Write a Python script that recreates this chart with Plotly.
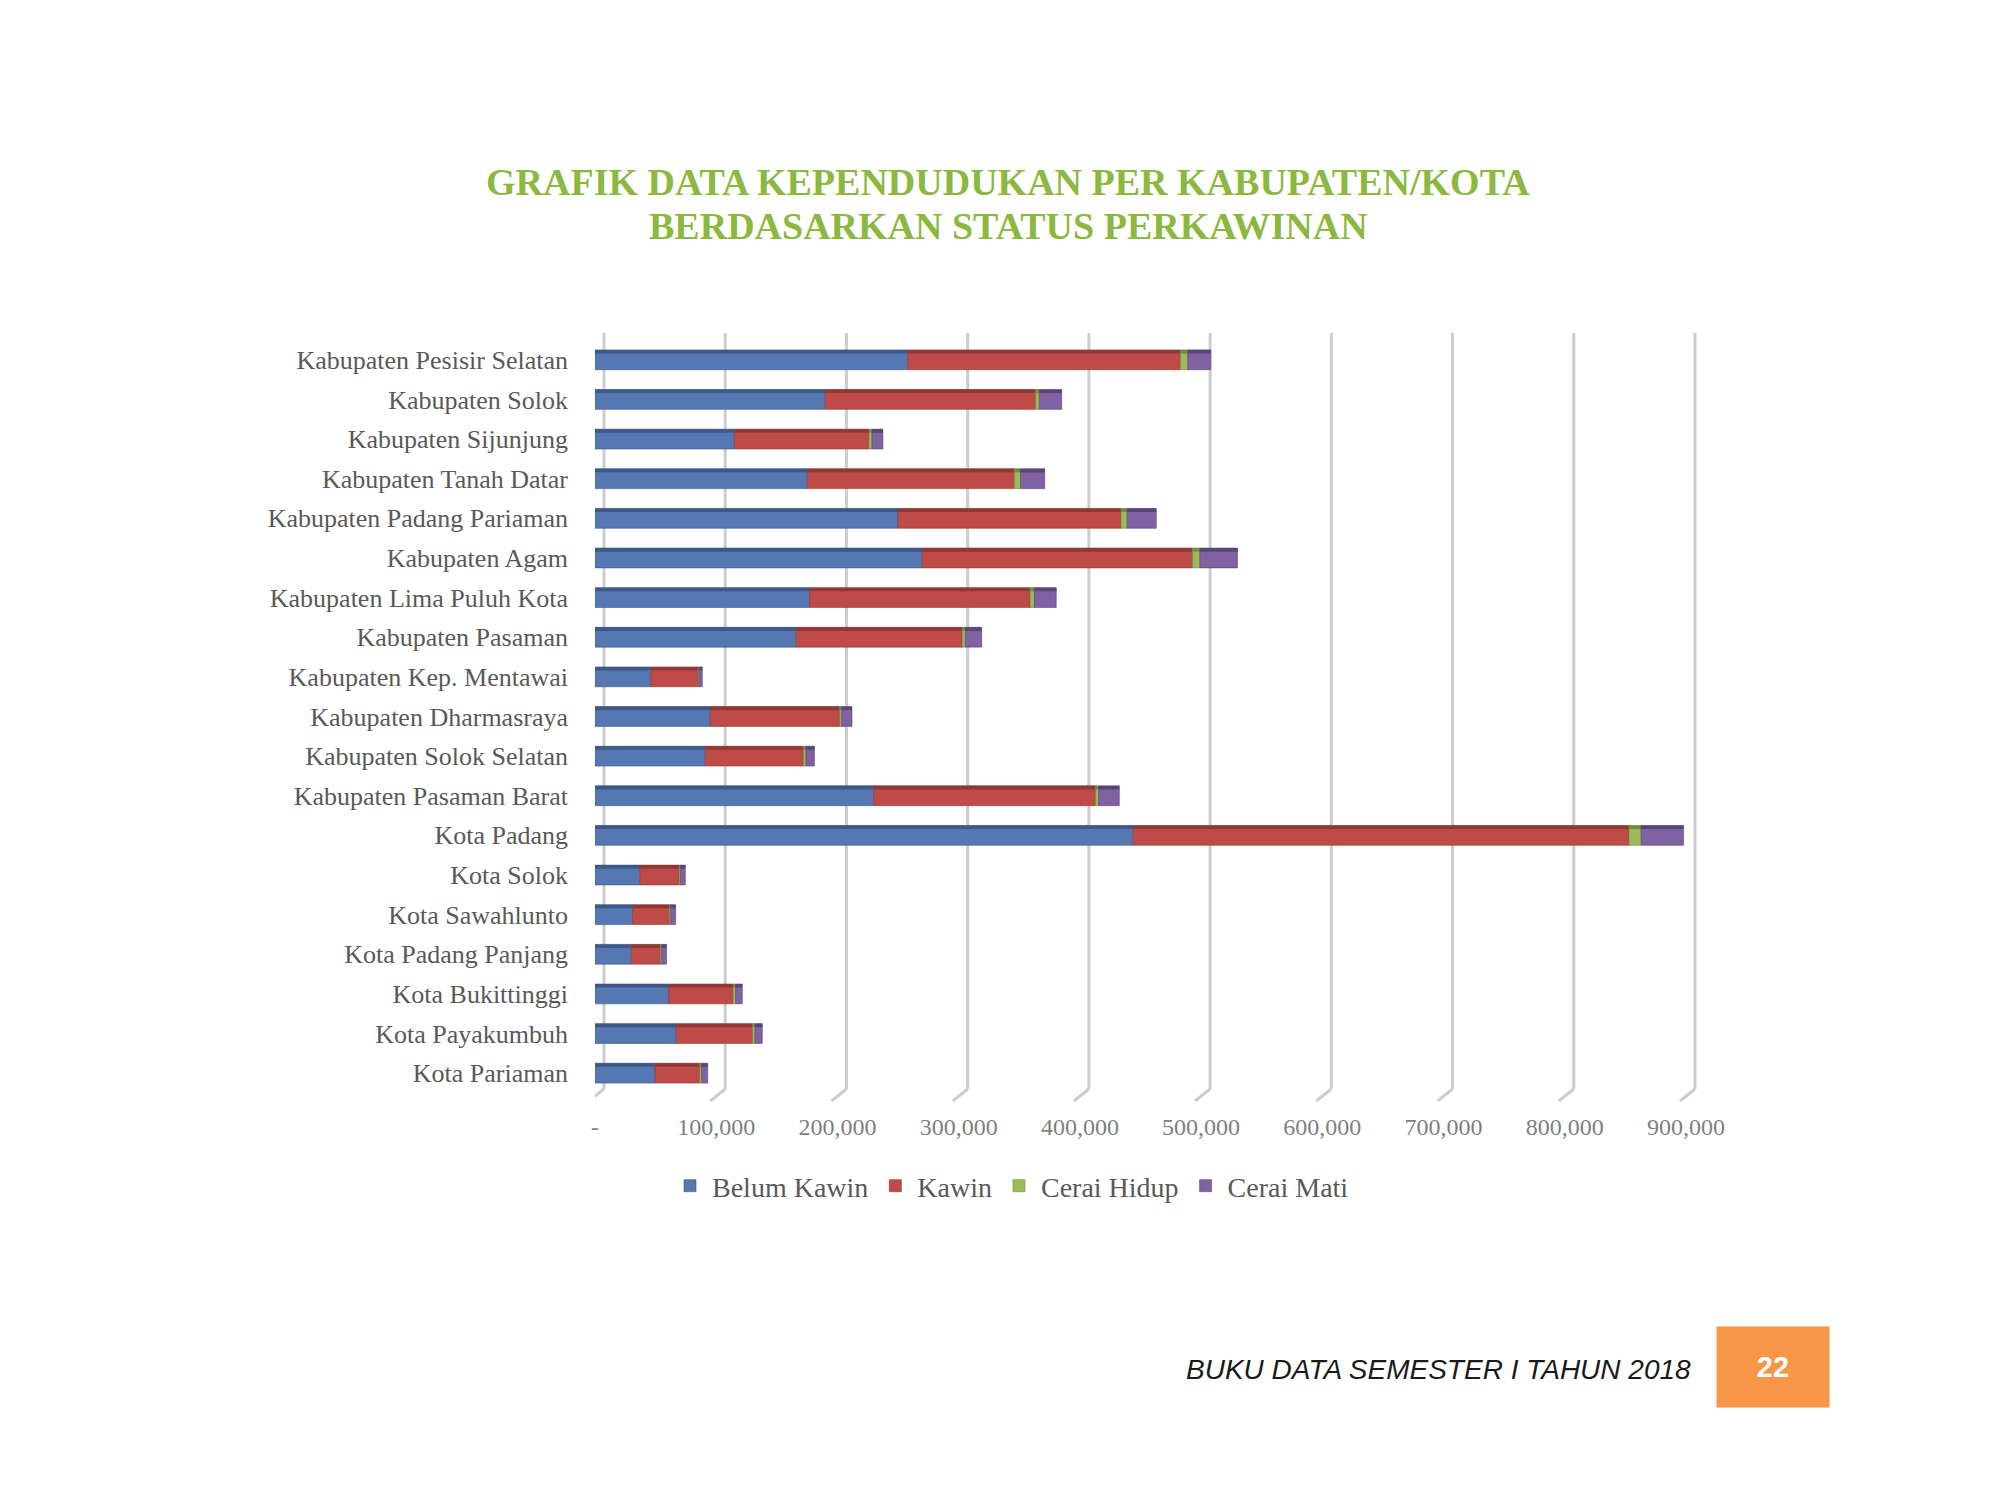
import numpy as np
import plotly.graph_objects as go

categories = ["Kabupaten Pesisir Selatan", "Kabupaten Solok", "Kabupaten Sijunjung",
              "Kabupaten Tanah Datar", "Kabupaten Padang Pariaman", "Kabupaten Agam",
              "Kabupaten Lima Puluh Kota", "Kabupaten Pasaman", "Kabupaten Kep. Mentawai",
              "Kabupaten Dharmasraya", "Kabupaten Solok Selatan", "Kabupaten Pasaman Barat",
              "Kota Padang", "Kota Solok", "Kota Sawahlunto", "Kota Padang Panjang",
              "Kota Bukittinggi", "Kota Payakumbuh", "Kota Pariaman"]

belum_kawin = [258000, 190000, 115000, 175000, 250000, 270000, 177000, 166000, 46000,
               95000, 91000, 230000, 444000, 37000, 31000, 30000, 61000, 67000, 49500]
kawin = [225000, 173500, 111000, 171000, 184000, 223000, 182000, 137000, 39500,
         107000, 81000, 183000, 409000, 32500, 30500, 24000, 53000, 63000, 37000]
cerai_hidup = [6000, 3000, 2500, 5000, 5000, 6000, 3500, 2500, 500,
               1500, 2000, 2500, 10000, 1000, 1000, 1000, 2000, 2000, 1500]
cerai_mati = [19000, 18500, 9000, 20000, 24000, 31000, 18000, 13500, 2500,
              8500, 7000, 17000, 35000, 4000, 4000, 4000, 5500, 6000, 5000]

series_names = ["Belum Kawin", "Kawin", "Cerai Hidup", "Cerai Mati"]
series_values = [belum_kawin, kawin, cerai_hidup, cerai_mati]
face_colors = ["#5577B2", "#BE4B48", "#9BBB59", "#8061A2"]
edge_colors = ["#3D5889", "#8E3936", "#718A40", "#5A4478"]

tick_vals = [0, 100000, 200000, 300000, 400000, 500000, 600000, 700000, 800000, 900000]
tick_text = ["-", "100,000", "200,000", "300,000", "400,000", "500,000",
             "600,000", "700,000", "800,000", "900,000"]

title_lines = ["GRAFIK DATA KEPENDUDUKAN PER KABUPATEN/KOTA",
               "BERDASARKAN STATUS PERKAWINAN"]

label_font = "Liberation Serif"
grey = "#595959"
grid_col = "#CDCDCD"

# plot-area geometry (pixels)
L, T, H = 595, 340, 753
PX_PER_100K = 121.2
EXTRA = 12  # room on the right so the last back-wall gridline is not clipped
W = 9 * PX_PER_100K + EXTRA
x_max = 900000 + EXTRA / PX_PER_100K * 100000
B = T + H


def px_x(p):
    return (p - L) / W


def px_y(p):
    return (B - p) / H


fig = go.Figure()
base = np.zeros(len(categories))
for name, vals, fc, ec in zip(series_names, series_values, face_colors, edge_colors):
    v = np.array(vals, dtype=float)
    fig.add_trace(go.Bar(
        y=categories, x=v, base=base.copy(), orientation="h", name=name,
        width=0.5, marker=dict(color=fc, line=dict(color=ec, width=0.6)),
    ))
    # darker top bevel for a pseudo-3D look
    fig.add_trace(go.Bar(
        y=categories, x=v, base=base.copy(), orientation="h", name=name,
        width=0.09, offset=-0.25, showlegend=False, hoverinfo="skip",
        marker=dict(color=ec, line=dict(width=0)),
    ))
    base = base + v

# back-wall gridlines (offset a few pixels like the 3D original) and slanted floor marks
shapes = []
for tv in tick_vals:
    shapes.append(dict(type="line", xref="x", yref="paper", layer="below",
                       xsizemode="pixel", xanchor=tv, x0=9, x1=9,
                       ysizemode="pixel", yanchor=0, y0=4, y1=760,
                       line=dict(color=grid_col, width=3)))
    shapes.append(dict(type="line", xref="x", yref="paper", layer="below",
                       xsizemode="pixel", xanchor=tv, x0=9, x1=-6,
                       ysizemode="pixel", yanchor=0, y0=4, y1=-8,
                       line=dict(color=grid_col, width=3)))

annotations = [
    dict(text=title_lines[0], xref="paper", yref="paper",
         x=px_x(1008), xanchor="center", y=px_y(182), yanchor="middle",
         showarrow=False, font=dict(family=label_font, size=38, color="#8CB83F", weight="bold")),
    dict(text=title_lines[1], xref="paper", yref="paper",
         x=px_x(1008), xanchor="center", y=px_y(226), yanchor="middle",
         showarrow=False, font=dict(family=label_font, size=38, color="#8CB83F", weight="bold")),
    dict(text="<i>BUKU DATA SEMESTER I TAHUN 2018</i>", xref="paper", yref="paper",
         x=px_x(1693), xanchor="right", y=px_y(1369), yanchor="middle",
         showarrow=False, font=dict(family="Liberation Sans", size=28, color="#1a1a1a")),
    dict(text="<b>22</b>", xref="paper", yref="paper",
         x=px_x(1773), xanchor="center", y=px_y(1367), yanchor="middle",
         showarrow=False, bgcolor="#F79646", width=110, height=78,
         font=dict(family="Liberation Sans", size=29, color="white")),
]

fig.update_layout(
    width=2000, height=1500,
    paper_bgcolor="white", plot_bgcolor="white",
    barmode="overlay", bargap=0.5,
    margin=dict(l=L, r=2000 - L - W, t=T, b=1500 - B),
    legend=dict(
        orientation="h", xref="container", yref="container",
        x=0.5055, xanchor="center", y=1 - 1186 / 1500, yanchor="middle",
        font=dict(family=label_font, size=28, color=grey),
        traceorder="normal", itemwidth=34,
    ),
    xaxis=dict(
        range=[0, x_max], tickvals=tick_vals, ticktext=tick_text,
        showgrid=False, zeroline=False, ticks="",
        ticklabelstandoff=17,
        tickfont=dict(family=label_font, size=24, color="#7F7F7F"),
        showline=False, fixedrange=True,
    ),
    yaxis=dict(
        autorange="reversed", showgrid=False, zeroline=False,
        tickfont=dict(family=label_font, size=26, color=grey),
        ticklabelstandoff=26, showline=False,
    ),
    shapes=shapes,
    annotations=annotations,
)

fig.write_html("out.html")
